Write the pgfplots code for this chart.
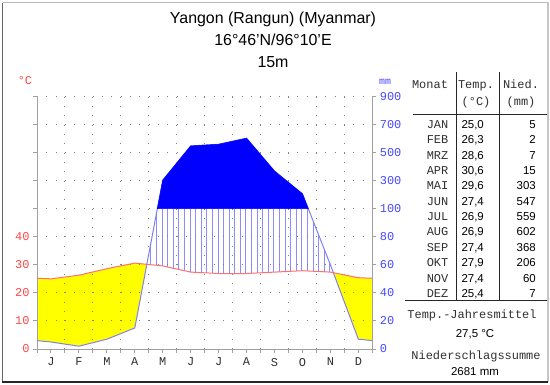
\documentclass[border=0pt]{standalone}
\usepackage{fontspec}
\setmainfont{Liberation Sans}
\setmonofont{Liberation Mono}
\usepackage{pgfplots}
\pgfplotsset{compat=1.18}
\usepackage{pgfplotstable}
\usetikzlibrary{patterns.meta}

\definecolor{tline}{HTML}{FF7070}
\definecolor{pline}{HTML}{8080F0}
\definecolor{tlab}{HTML}{FF4848}
\definecolor{plab}{HTML}{4848FF}
\definecolor{hatch}{HTML}{8C8CFF}
\definecolor{arid}{HTML}{FFFF00}
\definecolor{wet}{HTML}{0000FF}
\definecolor{axgray}{HTML}{A0A0A0}
\definecolor{gridgray}{HTML}{808080}
\definecolor{txtgray}{HTML}{303030}

% x = month position (midpoints, edges = mean of Dec/Jan)
% T in degC; S = precipitation on the diagram scale (mm/2 up to 100 mm, then 1:20)
% raw precipitation (mm): 5 2 7 15 303 547 559 602 368 206 60 7
\pgfplotstableread{
x T S
0 25.2 3
0.5 25.0 2.5
1.5 26.3 1
2.5 28.6 3.5
3.5 30.6 7.5
4.5 29.6 60.15
5.5 27.4 72.35
6.5 26.9 72.95
7.5 26.9 75.1
8.5 27.4 63.4
9.5 27.9 55.3
10.5 27.4 30
11.5 25.4 3.5
12 25.2 3
}\climate

% arid area (T above precipitation)
\pgfplotstableread{
x y
0 25.2
0.5 25.0
1.5 26.3
2.5 28.6
3.5 30.6
3.9306 30.169
3.5 7.5
2.5 3.5
1.5 1
0.5 2.5
0 3
}\aridA
\pgfplotstableread{
x y
10.6061 27.188
11.5 25.4
12 25.2
12 3
11.5 3.5
}\aridB
% humid area (precipitation above T, up to 100 mm)
\pgfplotstableread{
x y
3.9306 30.169
4.3072 50
9.7095 50
10.5 30
10.6061 27.188
10.5 27.4
9.5 27.9
8.5 27.4
7.5 26.9
6.5 26.9
5.5 27.4
4.5 29.6
}\humid
% perhumid area (above 100 mm)
\pgfplotstableread{
x y
4.3072 50
4.5 60.15
5.5 72.35
6.5 72.95
7.5 75.1
8.5 63.4
9.5 55.3
9.7095 50
}\perhumid

\newcommand{\mono}{\fontsize{12}{12}\selectfont\ttfamily}
\newcommand{\sans}{\fontsize{11.5}{12}\selectfont\rmfamily}

\pgfplotsset{diag/.style={
  at={(37bp,35bp)}, anchor=south west, scale only axis,
  width=335.3bp, height=252.6bp,
  xmin=0, xmax=12, ymin=0, ymax=90}}

\begin{document}
\begin{tikzpicture}[x=1bp,y=1bp]
\useasboundingbox (0,0) rectangle (550,384);
\fill[white] (0,0) rectangle (550,384);
% frame
\draw[gray!55, line width=1bp] (2.5,381) -- (547,381);
\draw[gray!80!black, line width=1.5bp] (2.5,2) -- (2.5,381);
\draw[gray!45, line width=2bp] (547.5,382) -- (547.5,2);
\draw[gray!30!black, line width=2bp] (2,2.5) -- (548,2.5);

% title
\node[anchor=base, font=\fontsize{16}{16}\selectfont] at (273,360.5) {Yangon (Rangun) (Myanmar)};
\node[anchor=base, font=\fontsize{16}{16}\selectfont] at (273,338.3) {16°46'N/96°10'E};
\node[anchor=base, font=\fontsize{16}{16}\selectfont] at (273,316.7) {15m};

% unit labels
\node[anchor=base, text=tlab, font=\mono] at (25,300) {°C};
\node[anchor=base, text=plab, font=\fontsize{10}{10}\selectfont\ttfamily] at (385,300) {mm};

% layer 1: arid and humid areas
\begin{axis}[diag, hide axis]
\addplot[fill=arid, draw=none] table[x=x, y=y] {\aridA} -- cycle;
\addplot[fill=arid, draw=none] table[x=x, y=y] {\aridB} -- cycle;
\addplot[draw=none, pattern={Lines[angle=90, distance=5.588bp, line width=0.8bp]}, pattern color=hatch] table[x=x, y=y] {\humid} -- cycle;
\end{axis}

% layer 2: grid, axes, perhumid area, curves
\begin{axis}[
  diag,
  axis x line*=bottom, axis y line*=left,
  axis line style={draw=axgray, line width=1bp},
  xtick={0.5,1.5,...,11.5},
  xticklabels={J,F,M,A,M,J,J,A,S,O,N,D},
  minor xtick={0,1,...,12},
  ytick={0,10,...,90},
  yticklabels={0,10,20,30,40,{},{},{},{},{}},
  xmajorgrids=false, xminorgrids=true, ymajorgrids=true,
  major grid style={draw=gridgray, line width=1bp, dash pattern=on 1bp off 8.3bp},
  minor grid style={draw=gridgray, line width=1bp, dash pattern=on 1bp off 8.3bp},
  tick align=outside,
  major tick length=4bp, minor tick length=4bp,
  tick style={draw=axgray, line width=1bp},
  x tick label style={font=\mono, text=txtgray, yshift=-1.5bp},
  y tick label style={font=\mono, text=tlab},
]
\addplot[pline, line width=1bp] table[x=x, y=S] {\climate};
\addplot[fill=wet, draw=wet, line width=0.5bp] table[x=x, y=y] {\perhumid} -- cycle;
\addplot[tline, line width=1bp] table[x=x, y=T] {\climate};
\end{axis}

% layer 3: precipitation axis
\begin{axis}[
  diag,
  axis x line=none, axis y line*=right,
  axis line style={draw=axgray, line width=1bp},
  ytick={0,10,...,90},
  yticklabels={0,20,40,60,80,100,300,500,700,900},
  tick align=outside, major tick length=4bp,
  tick style={draw=axgray, line width=1bp},
  y tick label style={font=\mono, text=plab},
]
\addplot[draw=none] table[x=x, y=T] {\climate};
\end{axis}

% table
\draw[black!85, line width=1bp] (456,312) -- (456,83.5);
\draw[black!85, line width=1bp] (499.5,312) -- (499.5,83.5);
\draw[black!85, line width=1bp] (413,270) -- (547,270);
\draw[black!85, line width=1bp] (405,83.5) -- (547,83.5);

\begin{scope}[every node/.style={font=\mono, text=txtgray, inner sep=0pt}]
\node[anchor=base] at (430,295.5) {Monat};
\node[anchor=base] at (476,295.5) {Temp.};
\node[anchor=base] at (476,278.5) {(°C)};
\node[anchor=base] at (521,295.5) {Nied.};
\node[anchor=base] at (521,278.5) {(mm)};
\end{scope}

\begin{scope}[every node/.style={inner sep=0pt}]
\foreach \m [count=\i from 0] in {JAN,FEB,MRZ,APR,MAI,JUN,JUL,AUG,SEP,OKT,NOV,DEZ}
  \node[anchor=base east, font=\mono, text=txtgray] at (448.5,255.6-15.37*\i) {\m};
\foreach \t [count=\i from 0] in {{25,0},{26,3},{28,6},{30,6},{29,6},{27,4},{26,9},{26,9},{27,4},{27,9},{27,4},{25,4}}
  \node[anchor=base east, font=\sans] at (484,255.6-15.37*\i) {\t};
\foreach \p [count=\i from 0] in {5,2,7,15,303,547,559,602,368,206,60,7}
  \node[anchor=base east, font=\sans] at (536,255.6-15.37*\i) {\p};

\node[anchor=base, font=\mono, text=txtgray] at (472,66) {Temp.-Jahresmittel};
\node[anchor=base, font=\sans] at (475,47) {27,5 °C};
\node[anchor=base, font=\mono, text=txtgray] at (476,25) {Niederschlagssumme};
\node[anchor=base, font=\sans] at (475,9) {2681 mm};
\end{scope}
\end{tikzpicture}
\end{document}
